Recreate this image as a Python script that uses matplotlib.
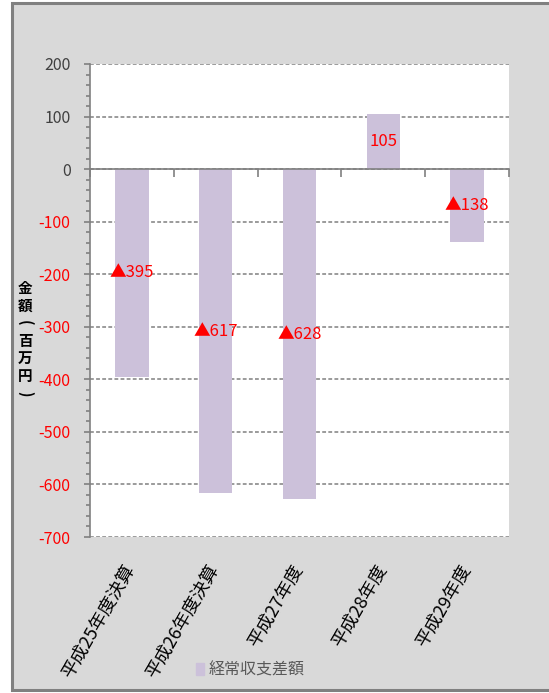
import matplotlib
matplotlib.use("Agg")
import matplotlib.pyplot as plt
import matplotlib.patches as mpatches
import matplotlib.transforms as mtransforms
from matplotlib.ticker import MultipleLocator
import numpy as np

plt.rcParams['font.family'] = ['Noto Sans CJK JP', 'DejaVu Sans']

# datos del grafico
categorias = ['平成25年度決算', '平成26年度決算', '平成27年度', '平成28年度', '平成29年度']
valores = [-395, -617, -628, 105, -138]
ticks_y = [200, 100, 0, -100, -200, -300, -400, -500, -600, -700]
nombre_serie = '経常収支差額'
etiqueta_y = '金額(百万円)'

color_barra = '#ccc1da'
color_rojo = '#ff0000'
color_gris = '#808080'

fig = plt.figure(figsize=(5.49, 6.93), dpi=100, facecolor='white')

# marco exterior gris
fondo = mpatches.Rectangle((12 / 549, 3 / 693), 1.2, 687 / 693, transform=fig.transFigure,
                           facecolor='#d9d9d9', edgecolor=color_gris, linewidth=2.2, zorder=-5)
fig.patches.append(fondo)

ax = fig.add_axes([90 / 549, 156 / 693, 419 / 549, 473 / 693])
ax.set_facecolor('white')

x = np.arange(len(categorias))
ax.bar(x, valores, width=0.4, color=color_barra, zorder=2)

ax.set_xlim(-0.5, len(categorias) - 0.5)
ax.set_ylim(-700, 200)
ax.set_yticks(ticks_y)
ax.yaxis.set_minor_locator(MultipleLocator(20))
for t in ticks_y:
    ax.axhline(t, color=color_gris, linestyle=(0, (2.5, 1.5)), linewidth=1.1, zorder=1)

for s in ['top', 'right']:
    ax.spines[s].set_visible(False)
ax.spines['left'].set_color(color_gris)
ax.spines['left'].set_linewidth(1.2)
ax.spines['bottom'].set_position(('data', 0))
ax.spines['bottom'].set_color(color_gris)
ax.spines['bottom'].set_linewidth(1.2)
ax.spines['bottom'].set_zorder(3)

ax.set_xticks(np.arange(len(categorias) + 1) - 0.5)
ax.set_xticklabels([])
ax.tick_params(axis='x', direction='out', length=6, color=color_gris, width=1.2)
ax.tick_params(axis='y', which='major', direction='out', length=4, color=color_gris, width=1.2,
               labelsize=11.5, pad=10)
ax.tick_params(axis='y', which='minor', direction='out', length=3, color=color_gris, width=1.2)

ax.set_yticklabels([str(t) for t in ticks_y])
for lab, t in zip(ax.get_yticklabels(), ticks_y):
    lab.set_color(color_rojo if t < 0 else '#404040')

# etiquetas de categoria abajo y giradas
trans = mtransforms.blended_transform_factory(ax.transData, ax.transAxes)
for xi, cat in zip(x, categorias):
    ax.text(xi - 0.01, -0.062, cat, transform=trans, rotation=60, rotation_mode='anchor',
            ha='right', va='center', fontsize=13, color='black')

# etiquetas de valor en el centro de cada barra
for xi, v in zip(x, valores):
    txt = f'▲{abs(v)}' if v < 0 else str(v)
    ax.text(xi, v / 2, txt, ha='center', va='center', fontsize=12, color=color_rojo, zorder=4)

# titulo del eje y en vertical, un caracter por linea
y0 = 1 - 288 / 693
paso = 17.6 / 693
for i, ch in enumerate(etiqueta_y):
    rot = 270 if ch in '()' else 0
    fig.text(25 / 549, y0 - i * paso, ch, ha='center', va='center', rotation=rot,
             rotation_mode='anchor', fontsize=10.5, color='black', fontweight='bold')

handle = mpatches.Patch(color=color_barra)
fig.legend([handle], [nombre_serie], loc='center', bbox_to_anchor=(250 / 549, 1 - 670 / 693),
           frameon=False, fontsize=11.5, handlelength=0.5, handleheight=0.7, handletextpad=0.3,
           labelcolor='#595959')

fig.savefig('out.png', dpi=100, facecolor='white')
